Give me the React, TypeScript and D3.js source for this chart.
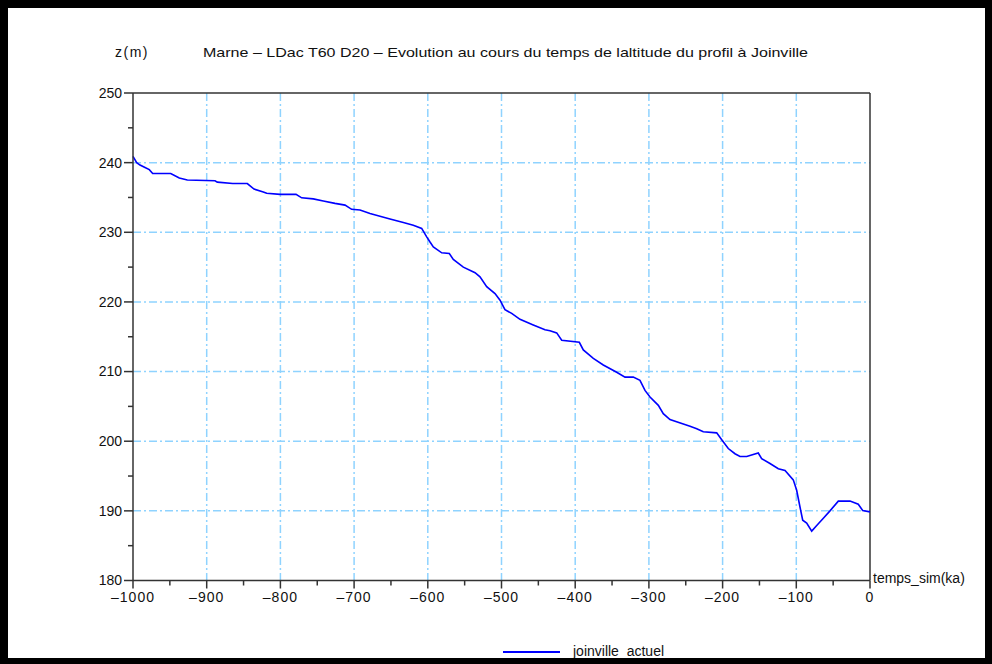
import React from "react";
import * as d3 from "d3";

const times = [-1000, -995, -990.5, -983.7, -977.9, -973.3, -948.8, -937.2, -926.3, -888.7, -885.6, -864.7, -844.9, -835.8, -823.2, -818.6, -800.5, -778.8, -771.1, -755.4, -741.8, -725.9, -712.3, -703.3, -692, -678.4, -664.9, -651.3, -633.2, -619.7, -608.3, -601.5, -597, -592.5, -581.1, -570.8, -565.4, -551.8, -535.9, -529.2, -520.1, -508.8, -502, -495.3, -486.2, -474.9, -456.9, -441, -434.2, -425.1, -418.3, -394.4, -389, -375.4, -361.9, -343.7, -332.4, -321.2, -312.1, -305.3, -298.5, -287.2, -280.5, -271.4, -244.2, -235.1, -226.2, -208, -201.2, -192.3, -183.2, -176.4, -167.3, -151.6, -147, -135.7, -124.4, -115.3, -104.1, -99.5, -95, -91.3, -85.9, -79.1, -72.3, -63.3, -54.3, -43, -27.1, -15.9, -9.9, 0];
const altitudes = [240.9, 240.0, 239.65, 239.3, 239.0, 238.45, 238.45, 237.8, 237.5, 237.4, 237.2, 237.0, 237.0, 236.2, 235.8, 235.6, 235.45, 235.45, 234.95, 234.8, 234.5, 234.15, 233.9, 233.3, 233.2, 232.7, 232.3, 231.9, 231.4, 231.0, 230.55, 229.35, 228.6, 227.9, 227.05, 226.95, 226.1, 225.0, 224.2, 223.6, 222.2, 221.2, 220.25, 218.9, 218.35, 217.5, 216.7, 216.0, 215.85, 215.55, 214.5, 214.2, 213.1, 211.9, 210.95, 209.9, 209.2, 209.2, 208.75, 207.3, 206.35, 205.15, 203.95, 203.1, 202.15, 201.8, 201.35, 201.2, 200.2, 198.95, 198.2, 197.8, 197.8, 198.3, 197.5, 196.8, 196.05, 195.8, 194.45, 192.95, 190.55, 188.65, 188.25, 187.1, 187.9, 188.95, 190.0, 191.4, 191.4, 190.95, 190.05, 189.85];

const xMajorTicks = [-1000, -900, -800, -700, -600, -500, -400, -300, -200, -100, 0];
const yMajorTicks = [180, 190, 200, 210, 220, 230, 240, 250];
const xMinorTicks = [-950, -850, -750, -650, -550, -450, -350, -250, -150, -50];
const yMinorTicks = [185, 195, 205, 215, 225, 235, 245];

const titleText = "Marne – LDac T60 D20 – Evolution au cours du temps de laltitude du profil à Joinville";
const yAxisTitle = "z(m)";
const xAxisTitle = "temps_sim(ka)";
const seriesName = "joinville_actuel";

export default function App() {
  const W = 992, H = 664;
  const x = d3.scaleLinear().domain([-1000, 0]).range([133, 870]);
  const y = d3.scaleLinear().domain([180, 250]).range([580.5, 93]);
  const pts = times.map((t, i) => [t, altitudes[i]] as [number, number]);
  const line = d3.line<[number, number]>().x(d => x(d[0])).y(d => y(d[1]));
  const gridColor = "#8fd3ff";
  const axisColor = "#333";
  const font = "'Liberation Sans', Arial, sans-serif";
  const fmt = (v: number) => (v < 0 ? "–" + Math.abs(v) : String(v));
  return (
    <svg width={W} height={H} style={{ position: "absolute", left: 0, top: 0, background: "#fff" }} fontFamily={font}>
      <rect x={0} y={0} width={W} height={H} fill="#fff" />
      {xMajorTicks.slice(1, -1).map(t => (
        <line key={"gx" + t} x1={x(t)} x2={x(t)} y1={y(250)} y2={y(180)} stroke={gridColor} strokeWidth={1.5} strokeDasharray="8,3,2,3" />
      ))}
      {yMajorTicks.slice(1, -1).map(t => (
        <line key={"gy" + t} x1={x(-1000)} x2={x(0)} y1={y(t)} y2={y(t)} stroke={gridColor} strokeWidth={1.5} strokeDasharray="8,3,2,3" />
      ))}
      <line x1={x(-1000)} x2={x(0)} y1={y(250)} y2={y(250)} stroke={axisColor} strokeWidth={1.5} />
      <line x1={x(0)} x2={x(0)} y1={y(250)} y2={y(180)} stroke={axisColor} strokeWidth={1.5} />
      <path d={line(pts) || ""} fill="none" stroke="#0000ff" strokeWidth={1.6} />
      <line x1={x(-1000)} x2={x(-1000)} y1={y(250)} y2={y(180)} stroke={axisColor} strokeWidth={1.5} />
      <line x1={x(-1000)} x2={x(0)} y1={y(180)} y2={y(180)} stroke={axisColor} strokeWidth={1.5} />
      {yMajorTicks.map(t => (
        <g key={"yt" + t}>
          <line x1={x(-1000) - 9} x2={x(-1000)} y1={y(t)} y2={y(t)} stroke={axisColor} strokeWidth={1.5} />
          <text x={x(-1000) - 11} y={y(t)} dy="0.35em" textAnchor="end" fontSize={14} fill="#111">{t}</text>
        </g>
      ))}
      {yMinorTicks.map(t => (
        <line key={"ym" + t} x1={x(-1000) - 5} x2={x(-1000)} y1={y(t)} y2={y(t)} stroke={axisColor} strokeWidth={1.5} />
      ))}
      {xMajorTicks.map(t => (
        <g key={"xt" + t}>
          <line x1={x(t)} x2={x(t)} y1={y(180)} y2={y(180) + 8} stroke={axisColor} strokeWidth={1.5} />
          <text x={x(t)} y={602} textAnchor="middle" fontSize={14} fill="#111" letterSpacing={1}>{fmt(t)}</text>
        </g>
      ))}
      {xMinorTicks.map(t => (
        <line key={"xm" + t} x1={x(t)} x2={x(t)} y1={y(180)} y2={y(180) + 5} stroke={axisColor} strokeWidth={1.5} />
      ))}
      <text x={873} y={583} fontSize={14} fill="#111">{xAxisTitle}</text>
      <text x={115} y={57} fontSize={14} fill="#111" letterSpacing={1.5}>{yAxisTitle}</text>
      <text x={203} y={57} fontSize={13} fill="#111" textLength={605} lengthAdjust="spacingAndGlyphs">{titleText}</text>
      <line x1={503} x2={560} y1={652} y2={652} stroke="#0000ff" strokeWidth={2} />
      <text x={573} y={656} fontSize={14} fill="#111">{seriesName}</text>
      <rect x={0} y={0} width={W} height={8} fill="#000" />
      <rect x={0} y={0} width={8} height={H} fill="#000" />
      <rect x={W - 7} y={0} width={7} height={H} fill="#000" />
      <rect x={0} y={H - 6} width={W} height={6} fill="#000" />
    </svg>
  );
}
